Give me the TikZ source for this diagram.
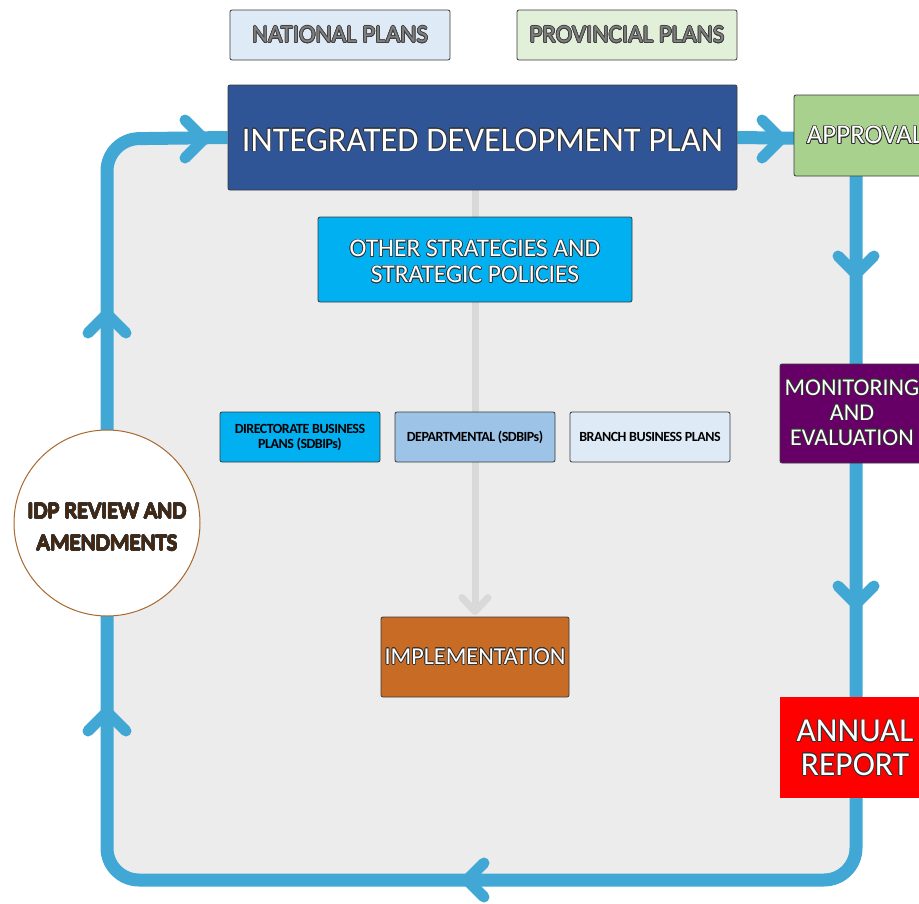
\documentclass[tikz,border=0pt]{standalone}
\usepackage{fontspec}
\setmainfont{Carlito}
\usepackage[copies]{contour}
\contournumber{16}
\usetikzlibrary{calc,backgrounds}
\definecolor{loopblue}{HTML}{41A8D5}
\definecolor{bggray}{HTML}{ECECEC}
\definecolor{arrowgray}{HTML}{D9D9D9}
\definecolor{boxline}{HTML}{3A3A3A}
\definecolor{natfill}{HTML}{DEEBF7}
\definecolor{provfill}{HTML}{E2F0D9}
\definecolor{idpfill}{HTML}{2F5597}
\definecolor{apprfill}{HTML}{A9D18E}
\definecolor{cyanfill}{HTML}{00B0F0}
\definecolor{depfill}{HTML}{9DC3E6}
\definecolor{monfill}{HTML}{660066}
\definecolor{implfill}{HTML}{C86B25}
\definecolor{circline}{HTML}{A8682F}
\definecolor{circtext}{HTML}{4A2508}
\definecolor{graytext}{HTML}{808080}
\definecolor{outl}{HTML}{333333}
\contourlength{0.7pt}
\newcommand\ow[1]{\contour{outl}{#1}}
\newcommand\shiftdn[2]{\raisebox{-#1}[\height][\depth]{#2}}
\begin{document}
\begin{tikzpicture}[x=1pt,y=-1pt,
  box/.style={draw=boxline, line width=0.8pt, rounded corners=2pt, inner sep=0pt, align=center},
  loopline/.style={line width=13pt, draw=loopblue, rounded corners=32pt},
  chev/.style={line width=11pt, draw=loopblue, line cap=round, line join=round},
  grayline/.style={line width=7pt, draw=arrowgray},
  graychev/.style={line width=7pt, draw=arrowgray, line cap=round, line join=round},
  bigw/.style={text=white},
  smallb/.style={font=\bfseries\fontsize{14}{15}\selectfont\addfontfeature{LetterSpace=-3.5}, text=black}
  ]
\useasboundingbox (0,0) rectangle (919,903);

% loop corners
\coordinate (tl) at (107,139);
\coordinate (tr) at (856,139);
\coordinate (br) at (856,880);
\coordinate (bl) at (107,880);

% nodes
\node[box, fill=natfill, minimum width=220pt, minimum height=50pt, text=graytext,
  font=\fontsize{25}{27}\selectfont] (natl) at (340,35) {\contour{black!75}{NATIONAL PLANS}};
\node[box, fill=provfill, minimum width=220pt, minimum height=50pt, text=graytext,
  font=\fontsize{25}{27}\selectfont] (prov) at (627,35) {\contour{black!75}{PROVINCIAL PLANS}};
\node[box, fill=idpfill, minimum width=509pt, minimum height=105pt, bigw,
  font=\fontsize{34.5}{36}\selectfont] (idp) at (482.5,137.5) {\shiftdn{3pt}{\ow{INTEGRATED DEVELOPMENT PLAN}}};
\node[box, fill=apprfill, minimum width=142pt, minimum height=81pt, bigw,
  font=\fontsize{27}{29}\selectfont] (appr) at (865,135.5) {\ow{APPROVAL}};
\node[box, fill=cyanfill, minimum width=314pt, minimum height=85pt, bigw,
  font=\fontsize{25.5}{26}\selectfont] (other) at (475,259.5)
  {\shiftdn{5pt}{\begin{tabular}{@{}c@{}}\ow{OTHER STRATEGIES AND}\\\ow{STRATEGIC POLICIES}\end{tabular}}};
\node[box, fill=cyanfill, minimum width=160pt, minimum height=50pt, smallb] (dir) at (300,437)
  {DIRECTORATE BUSINESS\\PLANS (SDBIPs)};
\node[box, fill=depfill, minimum width=160pt, minimum height=50pt, smallb] (dep) at (475,437)
  {DEPARTMENTAL (SDBIPs)};
\node[box, fill=natfill, minimum width=160pt, minimum height=50pt, smallb] (branch) at (650,437)
  {BRANCH BUSINESS PLANS};
\node[box, fill=monfill, minimum width=144pt, minimum height=99pt, bigw,
  font=\fontsize{24}{25}\selectfont] (mon) at (852,413.5)
  {\shiftdn{1.5pt}{\begin{tabular}{@{}c@{}}\ow{MONITORING}\\\ow{AND}\\\ow{EVALUATION}\end{tabular}}};
\node[box, draw=red, fill=red, rounded corners=0pt, minimum width=150pt, minimum height=100pt, bigw,
  font=\fontsize{33.5}{33.5}\selectfont] (annual) at (855,747)
  {\shiftdn{5pt}{\begin{tabular}{@{}c@{}}\ow{ANNUAL}\\\ow{REPORT}\end{tabular}}};
\node[box, fill=implfill, minimum width=188pt, minimum height=80pt, bigw,
  font=\fontsize{24.2}{25}\selectfont] (impl) at (475,657) {\ow{IMPLEMENTATION}};
\node[circle, draw=circline, line width=1pt, fill=white, minimum size=186pt, inner sep=0pt,
  align=center, text=circtext, font=\fontsize{23}{32}\selectfont] (rev) at (107,523)
  {\shiftdn{5pt}{\begin{tabular}{@{}c@{}}\contour{black!80}{IDP REVIEW AND}\\\contour{black!80}{AMENDMENTS}\end{tabular}}};

\begin{scope}[on background layer]
  \fill[bggray, rounded corners=32pt] (tl) rectangle (br);
  \draw[loopline] (idp.east) -- (tr) -- (br) -- (bl) -- (tl) -- (idp.west);
  % gray arrow
  \draw[grayline] (impl.north |- idp.south) -- ($(impl.north)+(0,-6)$);
  \draw[graychev] ($(impl.north)+(-13,-19)$) -- ($(impl.north)+(0,-5)$) -- ($(impl.north)+(13,-19)$);
\end{scope}

% chevrons on the loop
\coordinate (c1) at (204,139);
\coordinate (c2) at (781,139);
\coordinate (c3) at (856,274);
\coordinate (c4) at (856,604);
\coordinate (c5) at (467,880);
\coordinate (c6) at (107,314);
\coordinate (c7) at (107,712);
\begin{scope}[on background layer]
\draw[chev] ($(c1)+(-19,-19)$) -- (c1) -- ($(c1)+(-19,19)$);
\draw[chev] ($(c2)+(-19,-19)$) -- (c2) -- ($(c2)+(-19,19)$);
\draw[chev] ($(c3)+(-18,-18)$) -- (c3) -- ($(c3)+(18,-18)$);
\draw[chev] ($(c4)+(-18,-18)$) -- (c4) -- ($(c4)+(18,-18)$);
\draw[chev] ($(c5)+(17,-17)$) -- (c5) -- ($(c5)+(17,17)$);
\draw[chev] ($(c6)+(-19,19)$) -- (c6) -- ($(c6)+(19,19)$);
\draw[chev] ($(c7)+(-19,19)$) -- (c7) -- ($(c7)+(19,19)$);
\end{scope}
\end{tikzpicture}
\end{document}
